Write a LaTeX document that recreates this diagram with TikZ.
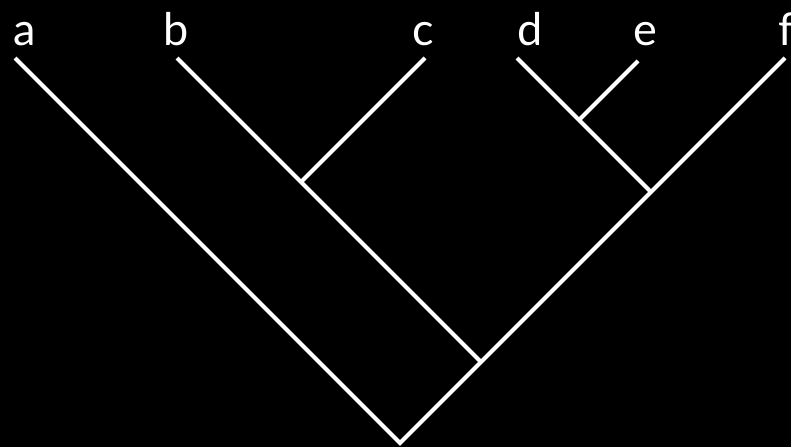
\documentclass[tikz,border=0pt]{standalone}
\usepackage{fontspec}
\setmainfont{Lato}
\begin{document}
\begin{tikzpicture}[x=1pt,y=-1pt,
  branch/.style={draw=white,line width=4pt},
  leaflabel/.style={text=white,font=\fontsize{45}{50}\selectfont,anchor=base,inner sep=0pt}]
\fill[black] (0,0) rectangle (791,447);
\useasboundingbox (0,0) rectangle (791,447);
% leaves
\coordinate (la) at (15,58);
\coordinate (lb) at (177,58);
\coordinate (lc) at (425,58);
\coordinate (ld) at (517,58);
\coordinate (le) at (638,61);
\coordinate (lf) at (785,58);
% internal nodes
\coordinate (root) at (400,443);
\coordinate (jbf) at (481,362);
\coordinate (jbc) at (301,182);
\coordinate (jdf) at (651,192);
\coordinate (jde) at (579,120);
% labels
\node[leaflabel] (ta) at (25,45) {a};
\node[leaflabel] (tb) at (176,45) {b};
\node[leaflabel] (tc) at (423,45) {c};
\node[leaflabel] (td) at (530,45) {d};
\node[leaflabel] (te) at (645,45) {e};
\node[leaflabel] (tf) at (786,45) {f};
% branches
\draw[branch,miter limit=20] (la) -- (root) -- (lf);
\draw[branch] (lb) -- (jbf);
\draw[branch] (lc) -- (jbc);
\draw[branch] (ld) -- (jdf);
\draw[branch] (le) -- (jde);
\end{tikzpicture}
\end{document}
